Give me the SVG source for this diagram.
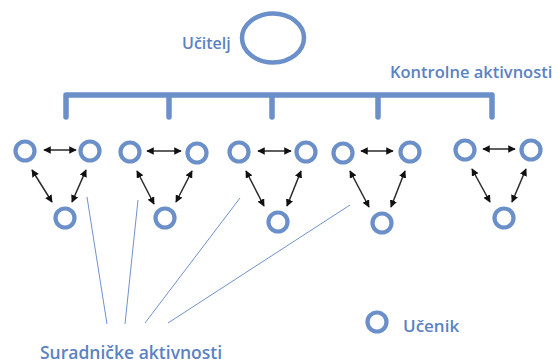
<svg xmlns="http://www.w3.org/2000/svg" width="559" height="364" viewBox="0 0 559 364">
  <style>
    .lbl { font-family: "Open Sans", "Liberation Sans", sans-serif; font-weight: 600; fill: #5b82c2; }
    .pupil { fill: none; stroke: #6b8fc8; stroke-width: 4.2; }
    .rel { stroke: #2a2a2a; stroke-width: 1.5; marker-start: url(#ah); marker-end: url(#ah); }
    .collab { stroke: #6f92cc; stroke-width: 1; fill: none; }
    .bar { fill: none; stroke: #6b8fc8; stroke-width: 5.5; stroke-linecap: round; stroke-linejoin: round; }
  </style>
  <defs>
    <marker id="ah" viewBox="0 0 10 10" refX="9" refY="5" markerWidth="5" markerHeight="5" orient="auto-start-reverse" markerUnits="strokeWidth">
      <path d="M0,0 L10,5 L0,10 z" fill="#111"/>
    </marker>
  </defs>
  <rect width="559" height="364" fill="#ffffff"/>

  <!-- teacher -->
  <g id="teacher">
    <ellipse cx="273" cy="38" rx="31" ry="24.5" fill="none" stroke="#6b8fc8" stroke-width="4.5"/>
    <text class="lbl" x="182" y="49" font-size="16">Učitelj</text>
  </g>

  <!-- control bracket -->
  <g id="control">
    <text class="lbl" x="390" y="78" font-size="16.5">Kontrolne aktivnosti</text>
    <path class="bar" d="M66,117 V95 H492 V117 M169,95 V117 M272,95 V117 M378,95 V117"/>
  </g>

  <!-- pupil groups -->
  <g id="group1">
    <circle class="pupil" cx="25" cy="151" r="9.5"/>
    <circle class="pupil" cx="90" cy="151" r="9.5"/>
    <circle class="pupil" cx="65" cy="218" r="9.5"/>
  </g>
  <g id="group2">
    <circle class="pupil" cx="130" cy="152" r="9.5"/>
    <circle class="pupil" cx="197" cy="153" r="9.5"/>
    <circle class="pupil" cx="165" cy="218" r="9.5"/>
  </g>
  <g id="group3">
    <circle class="pupil" cx="239" cy="152" r="9.5"/>
    <circle class="pupil" cx="306" cy="152" r="9.5"/>
    <circle class="pupil" cx="278" cy="222" r="9.5"/>
  </g>
  <g id="group4">
    <circle class="pupil" cx="343" cy="153" r="9.5"/>
    <circle class="pupil" cx="410" cy="152" r="9.5"/>
    <circle class="pupil" cx="382" cy="223" r="9.5"/>
  </g>
  <g id="group5">
    <circle class="pupil" cx="465" cy="150" r="9.5"/>
    <circle class="pupil" cx="531" cy="150" r="9.5"/>
    <circle class="pupil" cx="504" cy="218" r="9.5"/>
  </g>

  <!-- relations inside groups and collaboration lines -->
  <g id="connectors">
    <line class="rel" x1="44" y1="150" x2="76" y2="150"/>
    <line class="rel" x1="32" y1="170" x2="52" y2="202"/>
    <line class="rel" x1="86" y1="170" x2="72" y2="202"/>

    <line class="rel" x1="147" y1="151" x2="181" y2="151"/>
    <line class="rel" x1="137" y1="171" x2="154" y2="204"/>
    <line class="rel" x1="192" y1="171" x2="176" y2="202"/>

    <line class="rel" x1="258" y1="151" x2="291" y2="151"/>
    <line class="rel" x1="246" y1="171" x2="264" y2="206"/>
    <line class="rel" x1="301" y1="171" x2="287" y2="206"/>

    <line class="rel" x1="361" y1="151" x2="393" y2="151"/>
    <line class="rel" x1="350" y1="171" x2="369" y2="207"/>
    <line class="rel" x1="405" y1="171" x2="391" y2="207"/>

    <line class="rel" x1="483" y1="149" x2="515" y2="149"/>
    <line class="rel" x1="472" y1="169" x2="490" y2="202"/>
    <line class="rel" x1="526" y1="169" x2="512" y2="202"/>

    <line class="collab" x1="87" y1="197" x2="107" y2="324"/>
    <line class="collab" x1="138" y1="200" x2="125" y2="324"/>
    <line class="collab" x1="240" y1="198" x2="145" y2="323"/>
    <line class="collab" x1="350" y1="205" x2="168" y2="323"/>
  </g>

  <g id="collab-label">
    <text class="lbl" x="40" y="359" font-size="17.5">Suradničke aktivnosti</text>
  </g>

  <!-- legend -->
  <g id="legend">
    <circle class="pupil" cx="377" cy="322" r="9.5"/>
    <text class="lbl" x="403" y="332" font-size="17">Učenik</text>
  </g>
</svg>
